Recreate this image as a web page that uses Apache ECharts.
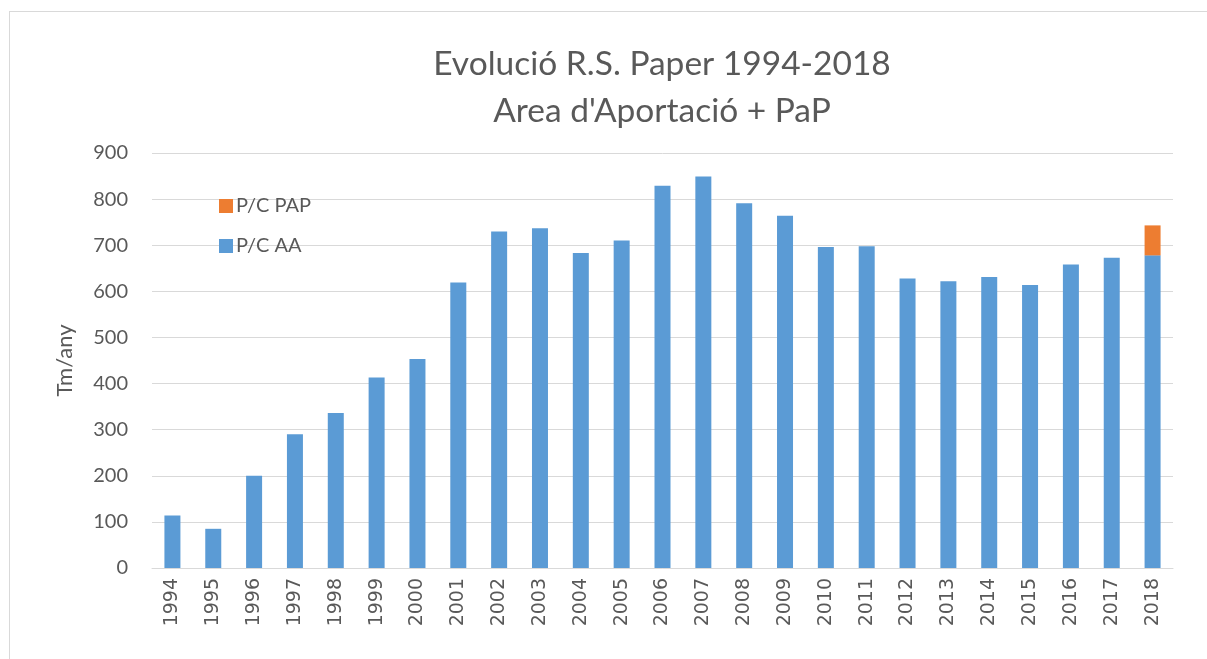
<!DOCTYPE html>
<html>
<head>
<meta charset="utf-8">
<script src="https://cdn.jsdelivr.net/npm/echarts@6/dist/echarts.min.js"></script>
<style>
  html, body { margin: 0; padding: 0; background: #fff; }
  #frame {
    position: absolute; left: 9px; top: 11px; width: 1210px; height: 660px;
    border: 1px solid #d9d9d9; box-sizing: border-box;
  }
  #chart { position: absolute; left: 0; top: 0; width: 1207px; height: 659px; }
</style>
</head>
<body>
<div id="frame"></div>
<div id="chart"></div>
<script>
// dades llegides del gràfic
const years = ["1994", "1995", "1996", "1997", "1998", "1999", "2000", "2001", "2002",
  "2003", "2004", "2005", "2006", "2007", "2008", "2009", "2010", "2011", "2012",
  "2013", "2014", "2015", "2016", "2017", "2018"];
const pcAA = [114, 85, 200, 290, 336, 413, 453, 619, 730, 737, 683, 710, 829, 849,
  791, 764, 696, 698, 628, 622, 631, 614, 658, 673, 678];
const pcPAP = [0, 0, 0, 0, 0, 0, 0, 0, 0, 0, 0, 0, 0, 0, 0, 0, 0, 0, 0, 0, 0, 0, 0, 0, 65];
const yTicks = [0, 100, 200, 300, 400, 500, 600, 700, 800, 900];

const textColor = "#595959";
const gridColor = "#d9d9d9";
const font = "Lato, 'Open Sans', sans-serif";

const chart = echarts.init(document.getElementById("chart"));
chart.setOption({
  animation: false,
  title: {
    text: "Evolució R.S. Paper 1994-2018\nArea d'Aportació + PaP",
    left: 657,
    textAlign: "center",
    top: 36,
    textStyle: {
      color: textColor, fontFamily: font, fontWeight: "normal",
      fontSize: 33.5, lineHeight: 47
    }
  },
  legend: {
    orient: "vertical",
    left: 214,
    top: 191,
    itemWidth: 14,
    itemHeight: 14,
    itemGap: 20,
    icon: "rect",
    data: ["P/C PAP", "P/C AA"],
    textStyle: { color: textColor, fontFamily: font, fontSize: 20, padding: [0, 0, 0, -2] }
  },
  grid: { left: 152, right: 34, top: 153, bottom: 91 },
  xAxis: {
    type: "category",
    data: years,
    axisLine: { lineStyle: { color: gridColor, width: 1 } },
    axisTick: { show: false },
    axisLabel: {
      rotate: 90, interval: 0, margin: 10,
      color: textColor, fontFamily: "'DejaVu Sans', sans-serif", fontSize: 19
    }
  },
  yAxis: {
    type: "value",
    min: yTicks[0],
    max: yTicks[yTicks.length - 1],
    interval: 100,
    name: "Tm/any",
    nameLocation: "middle",
    nameGap: 76,
    nameTextStyle: { color: textColor, fontFamily: font, fontSize: 22 },
    axisLine: { show: false },
    axisTick: { show: false },
    axisLabel: { margin: 24, color: textColor, fontFamily: font, fontSize: 20 },
    splitLine: { lineStyle: { color: gridColor, width: 1 } }
  },
  series: [
    {
      name: "P/C AA",
      type: "bar",
      stack: "total",
      data: pcAA,
      barWidth: 16,
      itemStyle: { color: "#5b9bd5" }
    },
    {
      name: "P/C PAP",
      type: "bar",
      stack: "total",
      data: pcPAP,
      barWidth: 16,
      itemStyle: { color: "#ed7d31" }
    }
  ]
});
</script>
</body>
</html>
